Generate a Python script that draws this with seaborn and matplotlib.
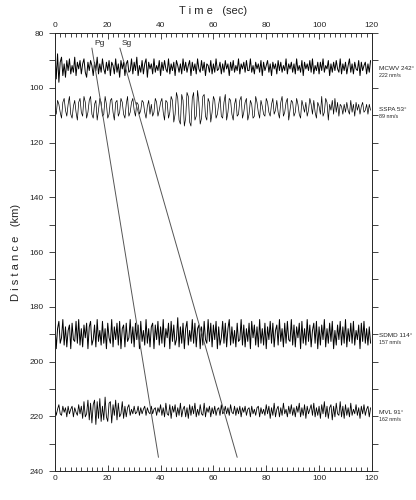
import matplotlib
matplotlib.use("Agg")
import matplotlib.pyplot as plt
from matplotlib.ticker import MultipleLocator
import seaborn as sns
import numpy as np
import pandas as pd

# station data
stations = ["MCWV", "SSPA", "SDMD", "MVL"]
azimuths = ["242°", "53°", "114°", "91°"]
peak_amps = ["222 nm/s", "89 nm/s", "157 nm/s", "162 nm/s"]
distances = [92.5, 107.5, 190.0, 218.0]
scales = [5.5, 6.5, 6.0, 5.0]   # km of plot per 9 units
widths = [0.7, 0.5, 0.7, 0.6]

# traces (units -9..9, one sample every 0.5 s)
mcwv = [9,-7,8,-9,3,6,-5,2,-6,4,-2,5,-4,1,-3,6,-5,3,-1,4,
        -4,2,5,-3,-6,3,-2,4,1,-5,3,-2,6,-4,2,-3,5,-1,-4,3,
        -2,4,-5,3,1,-4,5,-3,2,-6,4,-1,3,-5,2,4,-3,-2,5,-4,
        3,-2,6,-5,1,-3,4,-4,2,5,-6,3,-1,2,-4,5,-3,1,-2,4,
        -5,3,-2,4,-1,-3,5,-4,2,-2,3,-5,4,1,-3,2,-4,5,-2,3,
        -3,1,4,-5,3,-2,2,-4,5,-1,-3,4,-2,3,-5,2,1,-3,4,-4,
        2,-3,5,-2,-1,3,-4,2,-3,4,-1,2,-5,3,-2,4,-3,1,-2,5,
        -4,2,-1,3,-3,4,-2,-2,5,-3,1,-4,3,-1,2,-3,4,-5,3,-2,
        1,4,-3,2,-5,3,-1,2,-4,4,-2,3,-3,1,-2,5,-4,2,-1,3,
        -3,2,-4,5,-2,1,-3,4,-5,3,-1,2,-2,4,-3,5,-4,1,-2,3,
        -4,3,-2,5,-3,1,-1,4,-5,2,-3,3,-2,4,-1,-3,5,-4,2,-2,
        3,-4,1,5,-3,2,-4,3,-1,-2,4,-5,3,-2,1,3,-4,2,-3,4]
sspa = [1,-3,4,2,-2,-5,3,5,-1,-4,2,6,-3,-5,1,4,-2,-6,3,5,
        -2,-4,6,3,-5,-2,4,6,-3,-5,2,4,-6,-1,5,3,-4,-3,6,2,
        -5,-3,4,5,-2,-6,3,4,-4,-2,5,3,-3,-5,2,6,-4,-2,3,5,
        -1,-4,3,2,-3,-1,4,3,-2,-5,1,4,-3,2,-4,-2,5,3,-4,-1,
        3,5,-2,-6,4,3,-5,-2,6,4,-7,-3,8,5,-6,-8,7,4,-9,-5,
        8,6,-7,-9,5,8,-6,-4,9,3,-8,-5,6,7,-4,-6,5,3,-7,-2,
        6,4,-5,-3,2,6,-4,-5,3,7,-6,-2,5,4,-3,-6,2,5,-4,-3,
        4,6,-5,-2,3,5,-6,-3,4,2,-5,-4,6,3,-2,-5,4,1,-3,-4,
        5,3,-2,-4,2,5,-3,-1,4,-2,-5,3,6,-4,-2,3,5,-6,-1,4,
        3,-4,-2,5,2,-3,-5,4,1,-2,3,-4,-1,5,2,-3,4,-2,-5,3,
        1,-3,6,-4,-2,5,3,-6,2,-1,4,-3,5,-2,3,-4,2,1,-3,2,
        -2,3,-1,-3,4,-2,2,-4,3,-1,2,-3,1,3,-2,-1,2,-3,2,-1]
sdmd = [6,-8,3,7,-5,-2,8,-6,4,-7,2,5,-8,6,-3,-4,7,-5,8,-6,
        3,-7,5,-2,6,-8,4,7,-6,-3,5,-7,8,-4,2,-6,7,-5,3,-8,
        6,-2,-5,8,-7,4,-3,6,-6,7,-8,3,5,-7,6,-4,-2,8,-5,4,
        -7,6,-3,5,-8,7,-4,2,-6,8,-5,3,-7,4,6,-8,5,-3,7,-6,
        4,-5,8,-7,3,-2,6,-8,7,-4,5,-6,-3,9,-7,4,-5,6,-8,3,
        7,-6,2,-4,8,-5,6,-7,3,5,-8,4,-6,7,-3,-5,8,-4,6,-7,
        5,-3,7,-8,4,-6,-2,7,-5,6,-7,3,8,-6,4,-5,2,-7,6,-4,
        -3,8,-6,5,-7,3,-4,6,-8,7,-2,5,-6,4,-7,8,-5,3,-6,6,
        -8,4,-3,7,-5,6,-7,2,5,-6,8,-4,3,-7,6,-5,7,-3,-4,8,
        -6,5,-7,4,-2,6,-8,7,-5,3,-6,8,-4,5,-7,2,6,-5,7,-8,
        4,-6,5,-3,8,-7,3,-5,6,-4,7,-8,2,-6,5,-3,7,-6,4,-5,
        8,-7,3,-4,6,-5,7,-6,2,-3,5,-8,6,-4,7,-5,3,-6,4,-5]
mvl = [2,-3,1,4,-2,-3,3,-1,2,-4,3,-2,1,3,-4,2,-1,-3,4,-2,
       3,-5,6,-4,-2,7,-6,5,-8,4,7,-9,6,-5,8,-7,3,-6,9,-4,
       -7,5,6,-8,4,-3,7,-6,5,-4,-2,6,-5,3,-4,2,4,-3,1,-2,
       3,-2,-1,3,-3,2,-2,1,3,-3,2,-1,-2,3,-2,1,2,-3,2,-1,
       4,-3,2,-4,5,-2,-3,4,-5,3,-1,4,-4,2,-3,5,-4,1,3,-4,
       2,-5,4,-3,3,-2,5,-4,1,-3,4,-2,-3,5,-4,2,-1,3,-4,2,
       -2,3,-3,1,2,-3,4,-2,-1,3,-2,2,-3,4,-1,-2,3,-3,2,-2,
       3,-4,2,-1,3,-3,1,2,-4,3,-2,1,-3,2,3,-4,2,-2,1,-3,
       4,-2,3,-5,2,-3,5,-4,1,3,-4,2,-3,5,-2,1,-4,3,-2,4,
       -3,2,-4,3,-1,5,-4,2,-3,4,-5,3,-2,1,4,-3,5,-4,2,-3,
       3,-5,4,-2,6,-4,3,-5,2,4,-6,3,-4,5,-2,-3,6,-4,3,-5,
       4,-3,2,-4,5,-3,1,-2,4,-3,2,-5,3,-2,4,-3,1,3,-4,2]
traces = [mcwv, sspa, sdmd, mvl]

# phase lines (time, distance)
phases = ["Pg", "Sg"]
phase_t = [[14.0, 39.2], [24.6, 69.0]]
phase_d = [[85.5, 235.0], [85.5, 235.0]]

sns.set_style("ticks")
plt.rcParams["font.family"] = ["Liberation Sans", "DejaVu Sans"]

fig = plt.figure(figsize=(4.16, 5.0), dpi=100)
ax = fig.add_axes([0.132, 0.058, 0.762, 0.876])

for name, az, amp, d, s, w, tr in zip(stations, azimuths, peak_amps, distances,
                                      scales, widths, traces):
    vals = np.array(tr, dtype=float)
    df = pd.DataFrame({"t": np.linspace(0, 119.5, len(vals)),
                       "d": d - vals * s / 9.0})
    sns.lineplot(data=df, x="t", y="d", ax=ax, sort=False, estimator=None,
                 color="black", lw=w)
    ax.text(122.6, d + 0.6, f"{name} {az}", fontsize=4.6, va="center", clip_on=False)
    ax.text(122.6, d + 3.1, amp, fontsize=3.8, va="center", clip_on=False)

for ph, tt, dd in zip(phases, phase_t, phase_d):
    sns.lineplot(x=tt, y=dd, ax=ax, color="#555555", lw=0.7, sort=False, estimator=None)
    ax.text(tt[0] + 0.8, dd[0] - 1.6, ph, fontsize=6, ha="left", va="center")

ax.set_xlim(0, 120)
ax.set_ylim(240, 80)
ax.xaxis.set_major_locator(MultipleLocator(20))
ax.xaxis.set_minor_locator(MultipleLocator(2))
ax.yaxis.set_major_locator(MultipleLocator(20))
ax.yaxis.set_minor_locator(MultipleLocator(10))
ax.tick_params(axis="x", which="both", direction="in", top=True, bottom=True,
               labeltop=True, labelbottom=True, labelsize=6, width=0.6, pad=3)
ax.tick_params(axis="x", which="major", length=4)
ax.tick_params(axis="x", which="minor", length=3)
ax.tick_params(axis="y", which="both", direction="out", left=True, right=True,
               labelsize=6, width=0.6, length=4.5)
for sp in ax.spines.values():
    sp.set_linewidth(0.7)
    sp.set_visible(True)

ax.xaxis.set_label_position("top")
ax.set_xlabel("T i m e   (sec)", fontsize=8, labelpad=6)
ax.set_ylabel("D i s t a n c e   (km)", fontsize=8, labelpad=6)

fig.savefig("out.png", dpi=100)
